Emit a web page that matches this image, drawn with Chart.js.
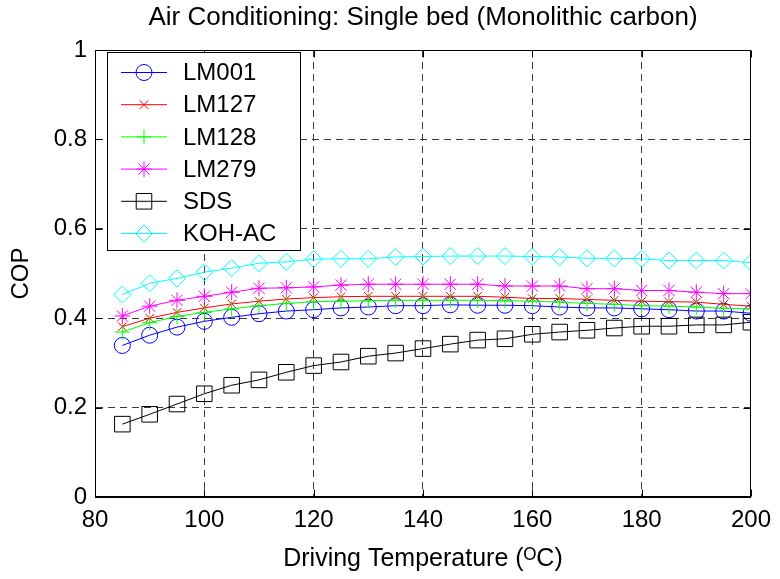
<!DOCTYPE html>
<html>
<head>
<meta charset="utf-8">
<script src="https://cdn.jsdelivr.net/npm/chart.js@4/dist/chart.umd.min.js"></script>
<style>
  html, body { margin: 0; padding: 0; background: #fff; }
  #wrap { width: 780px; height: 579px; }
</style>
</head>
<body>
<div id="wrap"><canvas id="cop-chart" width="780" height="579"></canvas></div>
<script>
// Driving temperature (degC)
const temps = [85, 90, 95, 100, 105, 110, 115, 120, 125, 130, 135, 140,
               145, 150, 155, 160, 165, 170, 175, 180, 185, 190, 195, 200];

const lm001 = [0.339, 0.362, 0.380, 0.393, 0.402, 0.410, 0.416, 0.419, 0.423, 0.425, 0.428, 0.428,
               0.430, 0.429, 0.429, 0.428, 0.425, 0.423, 0.423, 0.421, 0.419, 0.416, 0.416, 0.411];
const lm127 = [0.381, 0.400, 0.413, 0.423, 0.432, 0.438, 0.443, 0.446, 0.448, 0.449, 0.449, 0.449,
               0.449, 0.449, 0.447, 0.444, 0.444, 0.442, 0.440, 0.438, 0.437, 0.436, 0.431, 0.427];
const lm128 = [0.369, 0.390, 0.404, 0.413, 0.421, 0.428, 0.433, 0.437, 0.438, 0.439, 0.440, 0.440,
               0.440, 0.440, 0.439, 0.438, 0.436, 0.433, 0.431, 0.428, 0.427, 0.425, 0.422, 0.421];
const lm279 = [0.405, 0.427, 0.440, 0.449, 0.458, 0.467, 0.468, 0.470, 0.474, 0.476, 0.476, 0.476,
               0.476, 0.476, 0.472, 0.472, 0.472, 0.466, 0.466, 0.462, 0.462, 0.458, 0.455, 0.455];
const sds   = [0.163, 0.185, 0.208, 0.231, 0.250, 0.262, 0.279, 0.294, 0.302, 0.315, 0.322, 0.332,
               0.342, 0.351, 0.354, 0.364, 0.369, 0.373, 0.378, 0.382, 0.382, 0.385, 0.385, 0.391];
const kohAc = [0.453, 0.478, 0.489, 0.503, 0.512, 0.523, 0.526, 0.532, 0.533, 0.533, 0.537, 0.538,
               0.539, 0.539, 0.539, 0.538, 0.537, 0.534, 0.534, 0.533, 0.529, 0.529, 0.529, 0.524];

const seriesNames = ['LM001', 'LM127', 'LM128', 'LM279', 'SDS', 'KOH-AC'];
const seriesValues = [lm001, lm127, lm128, lm279, sds, kohAc];

const xTicks = [80, 100, 120, 140, 160, 180, 200];
const yTicks = [0, 0.2, 0.4, 0.6, 0.8, 1];

const FONT = "'Liberation Sans', Arial, Helvetica, sans-serif";

// marker look per series (matlab style)
const looks = [
    { color: '#0000ff', style: 'circle',   radius: 8 },
    { color: '#ff0000', style: 'crossRot', radius: 6 },
    { color: '#00ff00', style: 'cross',    radius: 7.5 },
    { color: '#ff00ff', style: 'star',     radius: 8 },
    { color: '#000000', style: 'rect',     radius: 11 },
    { color: '#00ffff', style: 'rectRot',  radius: 8.5 }
];

function drawMarker(ctx, style, r, x, y) {
    const d = Math.SQRT1_2 * r;
    ctx.beginPath();
    switch (style) {
        case 'circle':
            ctx.arc(x, y, r, 0, Math.PI * 2);
            break;
        case 'rect':
            ctx.rect(x - d, y - d, 2 * d, 2 * d);
            break;
        case 'rectRot':
            ctx.moveTo(x - r, y); ctx.lineTo(x, y - r);
            ctx.lineTo(x + r, y); ctx.lineTo(x, y + r);
            ctx.closePath();
            break;
        case 'cross':
            ctx.moveTo(x, y - r); ctx.lineTo(x, y + r);
            ctx.moveTo(x - r, y); ctx.lineTo(x + r, y);
            break;
        case 'crossRot':
            ctx.moveTo(x - d, y - d); ctx.lineTo(x + d, y + d);
            ctx.moveTo(x - d, y + d); ctx.lineTo(x + d, y - d);
            break;
        case 'star':
            ctx.moveTo(x, y - r); ctx.lineTo(x, y + r);
            ctx.moveTo(x - r, y); ctx.lineTo(x + r, y);
            ctx.moveTo(x - d, y - d); ctx.lineTo(x + d, y + d);
            ctx.moveTo(x - d, y + d); ctx.lineTo(x + d, y - d);
            break;
    }
    ctx.stroke();
}

// box around the axes, inward ticks and the legend inside the plot
const frameAndLegend = {
    id: 'frameAndLegend',
    afterDatasetsDraw(chart) {
        const { ctx, chartArea: a, scales } = chart;
        const L = Math.round(a.left) + 0.5, R = Math.round(a.right) - 0.5;
        const T = Math.round(a.top) + 0.5, B = Math.round(a.bottom) - 0.5;
        ctx.save();
        ctx.strokeStyle = '#000';
        ctx.lineWidth = 1;
        ctx.setLineDash([]);
        ctx.strokeRect(L, T, R - L, B - T);

        const tick = 7;
        ctx.beginPath();
        xTicks.forEach(v => {
            const px = Math.round(scales.x.getPixelForValue(v)) + 0.5;
            ctx.moveTo(px, B); ctx.lineTo(px, B - tick);
            ctx.moveTo(px, T); ctx.lineTo(px, T + tick);
        });
        yTicks.forEach(v => {
            const py = Math.round(scales.y.getPixelForValue(v)) + 0.5;
            ctx.moveTo(L, py); ctx.lineTo(L + tick, py);
            ctx.moveTo(R, py); ctx.lineTo(R - tick, py);
        });
        ctx.stroke();

        // legend
        const box = { left: 107.5, top: 52.5, right: 300.5, bottom: 250.5 };
        ctx.fillStyle = '#fff';
        ctx.fillRect(box.left, box.top, box.right - box.left, box.bottom - box.top);
        ctx.strokeStyle = '#000';
        ctx.strokeRect(box.left, box.top, box.right - box.left, box.bottom - box.top);

        ctx.font = '24px ' + FONT;
        ctx.textBaseline = 'middle';
        ctx.textAlign = 'left';
        seriesNames.forEach((name, i) => {
            const y = 72.5 + i * 32.2;
            const look = looks[i];
            ctx.strokeStyle = look.color;
            ctx.beginPath();
            ctx.moveTo(121, y); ctx.lineTo(167, y);
            ctx.stroke();
            drawMarker(ctx, look.style, look.radius, 144, y);
            ctx.fillStyle = '#000';
            ctx.fillText(name, 183, y + 1);
        });
        ctx.restore();
    }
};

const datasets = seriesNames.map((name, i) => ({
    label: name,
    data: temps.map((t, j) => ({ x: t, y: seriesValues[i][j] })),
    borderColor: looks[i].color,
    borderWidth: 1,
    backgroundColor: 'transparent',
    pointStyle: looks[i].style,
    pointRadius: looks[i].radius,
    pointHoverRadius: looks[i].radius,
    pointBorderColor: looks[i].color,
    pointBackgroundColor: 'transparent',
    pointBorderWidth: 1,
    tension: 0,
    order: seriesNames.length - i
}));

const tickFont = { family: FONT, size: 24 };

new Chart(document.getElementById('cop-chart'), {
    type: 'line',
    data: { datasets: datasets },
    options: {
        responsive: false,
        animation: false,
        events: [],
        layout: { padding: { left: 0, right: 27, top: 0, bottom: 0 } },
        plugins: {
            legend: { display: false },
            tooltip: { enabled: false },
            title: {
                display: true,
                text: 'Air Conditioning: Single bed (Monolithic carbon)',
                fullSize: false,
                color: '#000',
                font: { family: FONT, size: 26, weight: 'normal' },
                padding: { top: 2.4, bottom: 16.4 }
            }
        },
        scales: {
            x: {
                type: 'linear',
                min: 80,
                max: 200,
                afterBuildTicks: s => { s.ticks = xTicks.map(v => ({ value: v })); },
                afterFit: s => { s.height = 82; },
                ticks: { color: '#000', font: tickFont, padding: 9, maxRotation: 0 },
                grid: { color: '#3a3a3a', lineWidth: 1, drawTicks: false },
                border: { display: true, color: '#000', dash: [7, 5] },
                title: {
                    display: true,
                    text: 'Driving Temperature (ᴼC)',
                    color: '#000',
                    font: { family: FONT, size: 25 },
                    padding: { top: 0, bottom: 5 }
                }
            },
            y: {
                min: 0,
                max: 1,
                afterBuildTicks: s => { s.ticks = yTicks.map(v => ({ value: v })); },
                afterFit: s => { s.width = 95; },
                ticks: {
                    color: '#000',
                    font: tickFont,
                    padding: 8,
                    callback: v => String(Math.round(v * 10) / 10)
                },
                grid: { color: '#3a3a3a', lineWidth: 1, drawTicks: false },
                border: { display: true, color: '#000', dash: [7, 5] },
                title: {
                    display: true,
                    text: 'COP',
                    color: '#000',
                    font: tickFont,
                    padding: { top: 7, bottom: 0 }
                }
            }
        }
    },
    plugins: [frameAndLegend]
});
</script>
</body>
</html>
